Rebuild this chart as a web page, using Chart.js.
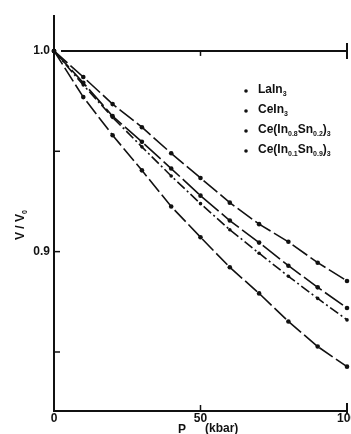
<!DOCTYPE html>
<html>
<head>
<meta charset="utf-8">
<script src="https://cdn.jsdelivr.net/npm/chart.js@4.4.0/dist/chart.umd.min.js"></script>
<style>
  body { margin: 0; background: #fff; }
  canvas { display: block; }
</style>
</head>
<body>
<canvas id="myChart" width="351" height="434"></canvas>
<script>
// pressure in kbar
const pressure = [0, 10, 20, 30, 40, 50, 60, 70, 80, 90, 100]

// V/V0
const laIn3   = [1.0, 0.987, 0.9735, 0.962, 0.949, 0.9367, 0.9244, 0.9137, 0.9049, 0.8945, 0.8854]
const ceIn3   = [1.0, 0.9841, 0.9675, 0.9547, 0.9414, 0.9279, 0.9155, 0.9045, 0.893, 0.8822, 0.8719]
const ceIn8Sn2 = [1.0, 0.983, 0.9669, 0.9522, 0.9377, 0.9239, 0.9109, 0.8992, 0.8877, 0.8767, 0.866]
const ceIn1Sn9 = [1.0, 0.977, 0.958, 0.9405, 0.9225, 0.9072, 0.8922, 0.8792, 0.8652, 0.8527, 0.8427]

// "_" starts a subscript
const seriesNames = ['LaIn_3', 'CeIn_3', 'Ce(In_0.8Sn_0.2)_3', 'Ce(In_0.1Sn_0.9)_3']

const yTicks = [0.85, 0.9, 0.95, 1.0]
const yTickLabels = ['', '0.9', '', '1.0']
const xTicks = [0, 50, 100]
const xTickLabels = ['0', '50', '100']
const yTitle = 'V / V_0'
const xTitle = ['P', '(kbar)']

const dashes = [[18, 4], [22, 4], [10, 3, 2, 3], [16, 4]]
const values = [laIn3, ceIn3, ceIn8Sn2, ceIn1Sn9]

var canvas = document.getElementById('myChart')
var ctx = canvas.getContext('2d')

function pts(arr) {
  return arr.map((v, i) => ({ x: pressure[i], y: v }))
}

// draws text with _sub parts
function richText(c, str, x, y, size) {
  var parts = str.split(/_([0-9.]+)/)
  var cx = x
  for (var i = 0; i < parts.length; i++) {
    if (!parts[i]) continue
    if (i % 2 == 1) {
      c.font = 'bold ' + Math.round(size * 0.62) + 'px "Liberation Sans"'
      c.fillText(parts[i], cx, y + size * 0.3)
    } else {
      c.font = 'bold ' + size + 'px "Liberation Sans"'
      c.fillText(parts[i], cx, y)
    }
    cx += c.measureText(parts[i]).width
  }
}

function seg(c, x1, y1, x2, y2) {
  c.beginPath()
  c.moveTo(x1, y1)
  c.lineTo(x2, y2)
  c.stroke()
}

const framePlugin = {
  id: 'frame',
  beforeDatasetsDraw(chart) {
    const c = chart.ctx
    const xs = chart.scales.x, ys = chart.scales.y
    const area = chart.chartArea
    const x0 = xs.getPixelForValue(0), x1 = xs.getPixelForValue(100)
    const xm = xs.getPixelForValue(50)
    const yTop = ys.getPixelForValue(1.0)
    const yb = area.bottom
    c.save()
    c.strokeStyle = '#111'
    c.lineWidth = 2
    seg(c, x0, area.top, x0, yb + 1)
    seg(c, x0 - 1, yb, x1, yb)
    seg(c, x0 + 7, yTop, x1, yTop)
    seg(c, x1, yTop - 8, x1, yTop + 8)
    seg(c, x1, yb - 8, x1, yb + 3)
    c.lineWidth = 1.5
    seg(c, xm, yTop, xm, yTop + 5)
    seg(c, xm, yb, xm, yb - 6)
    yTicks.forEach(v => {
      if (v < 1) {
        var py = ys.getPixelForValue(v)
        seg(c, x0, py, x0 + 6, py)
      }
    })
    c.restore()
  },
  afterDraw(chart) {
    const c = chart.ctx
    const xs = chart.scales.x, ys = chart.scales.y
    const yb = chart.chartArea.bottom
    c.save()
    c.fillStyle = '#111'
    c.textBaseline = 'middle'
    c.textAlign = 'right'
    c.font = 'bold 12px "Liberation Sans"'
    yTicks.forEach((v, i) => {
      if (yTickLabels[i]) c.fillText(yTickLabels[i], xs.getPixelForValue(0) - 4, ys.getPixelForValue(v))
    })
    c.textAlign = 'center'
    xTicks.forEach((v, i) => {
      c.fillText(xTickLabels[i], xs.getPixelForValue(v), yb + 8)
    })
    c.textAlign = 'left'
    c.fillText(xTitle[0], 178, yb + 19)
    c.fillText(xTitle[1], 205, yb + 18)

    // rotated y title
    c.save()
    c.translate(21, 224)
    c.rotate(-Math.PI / 2)
    c.textAlign = 'left'
    c.translate(-16, 0)
    richText(c, yTitle, 0, 0, 12)
    c.restore()

    // legend
    c.textAlign = 'left'
    seriesNames.forEach((name, i) => {
      var ly = 91 + i * 20
      c.beginPath()
      c.arc(246, ly, 1.8, 0, Math.PI * 2)
      c.fill()
      richText(c, name, 258, ly - 1, 12)
    })
    c.restore()
  }
}

var myChart = new Chart(ctx, {
  type: 'line',
  data: {
    datasets: values.map((arr, i) => ({
      label: seriesNames[i],
      data: pts(arr),
      borderColor: '#111',
      backgroundColor: '#111',
      borderWidth: 1.6,
      borderDash: dashes[i],
      pointRadius: i == 2 ? 1.8 : 2.3,
      pointBorderWidth: 0,
      tension: 0,
      clip: false
    }))
  },
  options: {
    responsive: false,
    animation: false,
    layout: { padding: { left: 54, right: 2, top: 15, bottom: 23 } },
    plugins: { legend: { display: false }, tooltip: { enabled: false } },
    scales: {
      x: { type: 'linear', min: 0, max: 100, display: false },
      y: { min: 0.8206, max: 1.0179, display: false }
    }
  },
  plugins: [framePlugin]
})
</script>
</body>
</html>
